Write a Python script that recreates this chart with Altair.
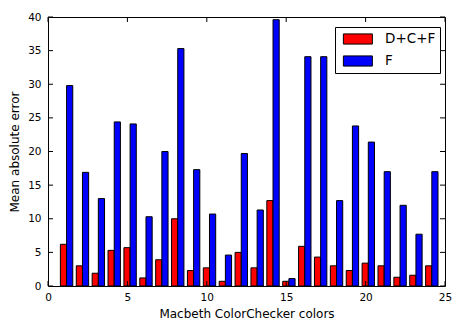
import altair as alt
import pandas as pd

# Macbeth ColorChecker patch index
patches = list(range(1, 25))
# Mean absolute error per patch
err_dcf = [6.2, 3.0, 1.9, 5.3, 5.7, 1.2, 3.9, 10.0, 2.3, 2.7, 0.7, 5.0,
           2.7, 12.7, 0.7, 5.9, 4.3, 3.0, 2.3, 3.4, 3.0, 1.3, 1.6, 3.0]
err_f = [29.8, 16.9, 13.0, 24.4, 24.1, 10.3, 20.0, 35.3, 17.3, 10.7, 4.6, 19.7,
         11.3, 39.6, 1.1, 34.1, 34.1, 12.7, 23.8, 21.4, 17.0, 12.0, 7.7, 17.0]
series_names = ["D+C+F", "F"]
series_colors = ["#ff0000", "#0000ff"]
x_tick_values = [0, 5, 10, 15, 20, 25]
y_tick_values = [0, 5, 10, 15, 20, 25, 30, 35, 40]

W, H = 397, 269
FONT = "DejaVu Sans"

rows = []
for p, a, b in zip(patches, err_dcf, err_f):
    rows.append({"patch": p, "series": series_names[0], "x0": p - 0.22, "x1": p + 0.17, "value": a})
    rows.append({"patch": p, "series": series_names[1], "x0": p + 0.17, "x1": p + 0.56, "value": b})
bars_df = pd.DataFrame(rows)

xscale = alt.Scale(domain=[0, 25], nice=False, zero=False)
yscale = alt.Scale(domain=[0, 40], nice=False)

xaxis = alt.Axis(values=x_tick_values, ticks=False, domain=False, grid=False,
                 labelPadding=6, labelFontSize=10.5, labelFont=FONT, labelColor="black",
                 title="Macbeth ColorChecker colors", titleFont=FONT, titleFontSize=12,
                 titleFontWeight="normal", titleColor="black", titlePadding=6,
                 labelFlush=False, labelOverlap=False)
yaxis = alt.Axis(values=y_tick_values, ticks=False, domain=False, grid=False,
                 labelPadding=7, labelFontSize=10.5, labelFont=FONT, labelColor="black",
                 title="Mean absolute error", titleFont=FONT, titleFontSize=12,
                 titleFontWeight="normal", titleColor="black", titlePadding=6,
                 labelFlush=False, labelOverlap=False)

bars = alt.Chart(bars_df).mark_rect(stroke="black", strokeWidth=1).encode(
    x=alt.X("x0:Q", scale=xscale, axis=xaxis),
    x2="x1:Q",
    y=alt.Y("value:Q", scale=yscale, axis=yaxis),
    y2=alt.datum(0),
    color=alt.Color("series:N", scale=alt.Scale(domain=series_names, range=series_colors),
                    legend=alt.Legend(title=None, orient="none", legendX=287, legendY=10,
                                      symbolType="M-0.5,-0.7L3.5,-0.7L3.5,0.7L-0.5,0.7Z",
                                      symbolSize=210, symbolStrokeColor="black",
                                      symbolStrokeWidth=1, symbolOpacity=1,
                                      labelFont=FONT, labelFontSize=13.5, labelColor="black",
                                      labelOffset=30, rowPadding=6,
                                      labelExpr="datum.label + ' '",
                                      strokeColor="black", fillColor="white", padding=4,
                                      cornerRadius=0)),
)

xt = pd.DataFrame({"t": x_tick_values})
yt = pd.DataFrame({"t": y_tick_values})
TL = 5
ticks_bottom = alt.Chart(xt).mark_rule(color="black", strokeWidth=1).encode(
    x=alt.X("t:Q", scale=xscale, axis=xaxis), y=alt.value(H), y2=alt.value(H - TL))
ticks_top = alt.Chart(xt).mark_rule(color="black", strokeWidth=1).encode(
    x=alt.X("t:Q", scale=xscale, axis=xaxis), y=alt.value(0), y2=alt.value(TL))
ticks_left = alt.Chart(yt).mark_rule(color="black", strokeWidth=1).encode(
    y=alt.Y("t:Q", scale=yscale, axis=yaxis), x=alt.value(0), x2=alt.value(TL))
ticks_right = alt.Chart(yt).mark_rule(color="black", strokeWidth=1).encode(
    y=alt.Y("t:Q", scale=yscale, axis=yaxis), x=alt.value(W), x2=alt.value(W - TL))

chart = alt.layer(bars, ticks_bottom, ticks_top, ticks_left, ticks_right).properties(
    width=W, height=H,
    autosize=alt.AutoSizeParams(type="none"),
    padding={"left": 40, "top": 9, "right": 7, "bottom": 34},
    background="white",
).configure_view(stroke="black", strokeWidth=1)

chart.save("out.html", embed_options={"renderer": "svg", "actions": False})
